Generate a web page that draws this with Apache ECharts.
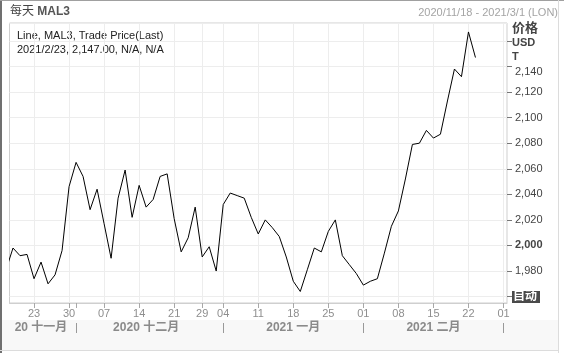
<!DOCTYPE html>
<html>
<head>
<meta charset="utf-8">
<script src="https://cdn.jsdelivr.net/npm/echarts@6/dist/echarts.min.js"></script>
<style>
html, body { margin: 0; padding: 0; background: #fff; }
#chart { width: 564px; height: 353px; }
</style>
</head>
<body>
<div id="chart"></div>
<script>
// trading days shown on the axis (LME, holidays skipped)
const tradeDays = [
    '2020/11/18', '2020/11/19', '2020/11/20', '2020/11/23', '2020/11/24', '2020/11/25', '2020/11/26', '2020/11/27', '2020/11/30',
    '2020/12/1', '2020/12/2', '2020/12/3', '2020/12/4', '2020/12/7', '2020/12/8', '2020/12/9', '2020/12/10', '2020/12/11',
    '2020/12/14', '2020/12/15', '2020/12/16', '2020/12/17', '2020/12/18', '2020/12/21', '2020/12/22', '2020/12/23', '2020/12/24',
    '2020/12/29', '2020/12/30', '2020/12/31',
    '2021/1/4', '2021/1/5', '2021/1/6', '2021/1/7', '2021/1/8', '2021/1/11', '2021/1/12', '2021/1/13', '2021/1/14', '2021/1/15',
    '2021/1/18', '2021/1/19', '2021/1/20', '2021/1/21', '2021/1/22', '2021/1/25', '2021/1/26', '2021/1/27', '2021/1/28', '2021/1/29',
    '2021/2/1', '2021/2/2', '2021/2/3', '2021/2/4', '2021/2/5', '2021/2/8', '2021/2/9', '2021/2/10', '2021/2/11', '2021/2/12',
    '2021/2/15', '2021/2/16', '2021/2/17', '2021/2/18', '2021/2/19', '2021/2/22', '2021/2/23', '2021/2/24', '2021/2/25', '2021/2/26',
    '2021/3/1'
]
// close of the day before the window (line enters from the left edge)
const prevClose = 1981
// closes from 2020/11/18 to 2021/2/23
const closes = [
    1998, 1992, 1993, 1974, 1987, 1970, 1977, 1996, 2046,
    2065, 2054, 2028, 2044, 2017, 1990, 2037, 2059, 2022, 2047, 2030, 2036, 2054, 2056,
    2021, 1995, 2006, 2030, 1991, 1999, 1980,
    2032, 2041, 2039, 2037, 2022, 2009, 2020, 2014, 2007, 1991,
    1972, 1964, 1981, 1998, 1995, 2011, 2020, 1992, 1985, 1978,
    1969, 1972, 1974, 1994, 2015, 2027, 2052, 2079, 2080, 2090,
    2084, 2087, 2113, 2138, 2132, 2167, 2147
]
const monthNames = ['20 十一月', '2020 十二月', '2021 一月', '2021 二月']
// price ticks whose label is covered by the header / the button
const hiddenPriceLabels = [1960, 2160]

const FONT = '"Liberation Sans", "Noto Sans CJK SC", sans-serif'

const toDate = s => { const p = s.split('/').map(Number); return new Date(p[0], p[1] - 1, p[2]) }
const dayGap = i => i === 0 ? 0 : (toDate(tradeDays[i]) - toDate(tradeDays[i - 1])) / 86400000
const isWeekStart = i => i > 0 && dayGap(i) > 1
const isMonthStart = i => i > 0 && toDate(tradeDays[i]).getMonth() !== toDate(tradeDays[i - 1]).getMonth()

const monthStarts = [-0.5]
tradeDays.forEach((d, i) => { if (isMonthStart(i)) monthStarts.push(i) })
const monthLabelAt = {}
for (let k = 0; k < monthStarts.length - 1; k++) {
    monthLabelAt[Math.floor((monthStarts[k] + monthStarts[k + 1]) / 2)] = monthNames[k]
}

const lineData = [[-1, prevClose]].concat(closes.map((v, i) => [i, v]))

const chartInstance = echarts.init(document.getElementById('chart'))
const option = {
    backgroundColor: '#fff',
    animation: false,
    textStyle: { fontFamily: FONT },
    grid: {
        left: 9.5,
        right: 57,
        top: 23,
        bottom: 50,
        show: true,
        borderColor: '#cfcfcf',
        borderWidth: 1,
        backgroundColor: '#fff'
    },
    xAxis: [
        {
            type: 'category',
            position: 'bottom',
            data: tradeDays,
            boundaryGap: true,
            axisLine: { show: true, onZero: false, lineStyle: { color: '#cfcfcf' } },
            axisTick: {
                show: true,
                alignWithLabel: true,
                length: 5,
                interval: (i) => isWeekStart(i) || isMonthStart(i),
                lineStyle: { color: '#a8a8a8' }
            },
            axisLabel: {
                interval: (i) => isWeekStart(i),
                formatter: (v) => ('0' + v.split('/')[2]).slice(-2),
                color: '#8e8e8e',
                fontSize: 11,
                fontFamily: FONT,
                margin: 5
            },
            splitLine: {
                show: true,
                alignWithLabel: true,
                interval: (i) => isWeekStart(i),
                lineStyle: { color: '#ededed' }
            }
        },
        {
            type: 'category',
            position: 'bottom',
            offset: 20,
            data: tradeDays,
            boundaryGap: true,
            axisLine: { show: false, onZero: false },
            axisTick: {
                show: true,
                alignWithLabel: true,
                length: 10,
                interval: (i) => isMonthStart(i),
                lineStyle: { color: '#999' }
            },
            axisLabel: {
                interval: (i) => monthLabelAt[i] !== undefined,
                formatter: (v, i) => monthLabelAt[i] || '',
                color: '#8a8a8a',
                fontSize: 12,
                fontWeight: 'bold',
                fontFamily: FONT,
                margin: -1
            },
            splitLine: { show: false }
        },
        {
            type: 'value',
            position: 'top',
            min: -0.5,
            max: tradeDays.length - 0.5,
            axisLine: { onZero: false },
            show: false
        }
    ],
    yAxis: {
        type: 'value',
        position: 'right',
        min: 1955,
        max: 2174,
        splitNumber: 10,
        axisLine: { show: false, onZero: false },
        axisTick: { show: true, length: 5, lineStyle: { color: '#777' } },
        axisLabel: {
            showMinLabel: false,
            showMaxLabel: false,
            color: '#444',
            fontSize: 11,
            fontFamily: FONT,
            margin: 8,
            formatter: function (v) {
                if (hiddenPriceLabels.indexOf(v) >= 0) return ''
                const s = v.toLocaleString('en-US')
                if (v === 2000) return '{b|' + s + '}'
                if (v === 2140) return '{low|' + s + '}'
                return s
            },
            rich: {
                b: { fontWeight: 'bold', color: '#444', fontSize: 11, fontFamily: FONT },
                low: { padding: [10, 0, 0, 0], color: '#444', fontSize: 11, fontFamily: FONT }
            }
        },
        splitLine: { show: true, lineStyle: { color: '#ededed' } }
    },
    series: [
        {
            name: 'MAL3',
            type: 'line',
            xAxisIndex: 2,
            yAxisIndex: 0,
            data: lineData,
            symbol: 'none',
            clip: true,
            lineStyle: { color: '#000', width: 1 }
        }
    ],
    graphic: [
        { type: 'rect', z: -10, shape: { x: 2, y: 320, width: 556, height: 30 }, style: { fill: '#f8f8f8' } },
        { type: 'rect', shape: { x: 0, y: 0, width: 2, height: 353 }, style: { fill: '#707070' } },
        { type: 'rect', shape: { x: 0, y: 0, width: 564, height: 1 }, style: { fill: '#a0a0a0' } },
        { type: 'rect', shape: { x: 558, y: 0, width: 1, height: 353 }, style: { fill: '#dcdcdc' } },
        { type: 'rect', shape: { x: 0, y: 350, width: 559, height: 1 }, style: { fill: '#dcdcdc' } },
        {
            type: 'text', left: 10, top: 6,
            style: {
                text: '{a|每天} {b|MAL3}',
                rich: {
                    a: { fontSize: 12, fill: '#444', fontFamily: FONT },
                    b: { fontSize: 12, fill: '#555', fontWeight: 'bold', fontFamily: FONT }
                }
            }
        },
        {
            type: 'text', right: 6, top: 7,
            style: { text: '2020/11/18 - 2021/3/1 (LON)', fontSize: 11, fill: '#a4a4a4', fontFamily: FONT }
        },
        {
            type: 'text', left: 17, top: 30,
            style: { text: 'Line, MAL3, Trade Price(Last)', fontSize: 11, fill: '#222', fontFamily: FONT }
        },
        {
            type: 'text', left: 17, top: 44,
            style: { text: '2021/2/23, 2,147.00, N/A, N/A', fontSize: 11, fill: '#222', fontFamily: FONT }
        },
        {
            type: 'text', left: 512, top: 22,
            style: { text: '价格', fontSize: 13, fontWeight: 'bold', fill: '#444', fontFamily: FONT }
        },
        {
            type: 'text', left: 512, top: 37,
            style: { text: 'USD', fontSize: 11, fontWeight: 'bold', fill: '#444', fontFamily: FONT }
        },
        {
            type: 'text', left: 512, top: 51,
            style: { text: 'T', fontSize: 11, fontWeight: 'bold', fill: '#444', fontFamily: FONT }
        },
        { type: 'rect', shape: { x: 512, y: 291, width: 28, height: 12 }, style: { fill: '#4a4a4a' } },
        {
            type: 'text', left: 513, top: 291,
            style: { text: '自动', fontSize: 12, fontWeight: 'bold', fill: '#fff', fontFamily: FONT }
        }
    ]
}

option && chartInstance.setOption(option)
</script>
</body>
</html>
